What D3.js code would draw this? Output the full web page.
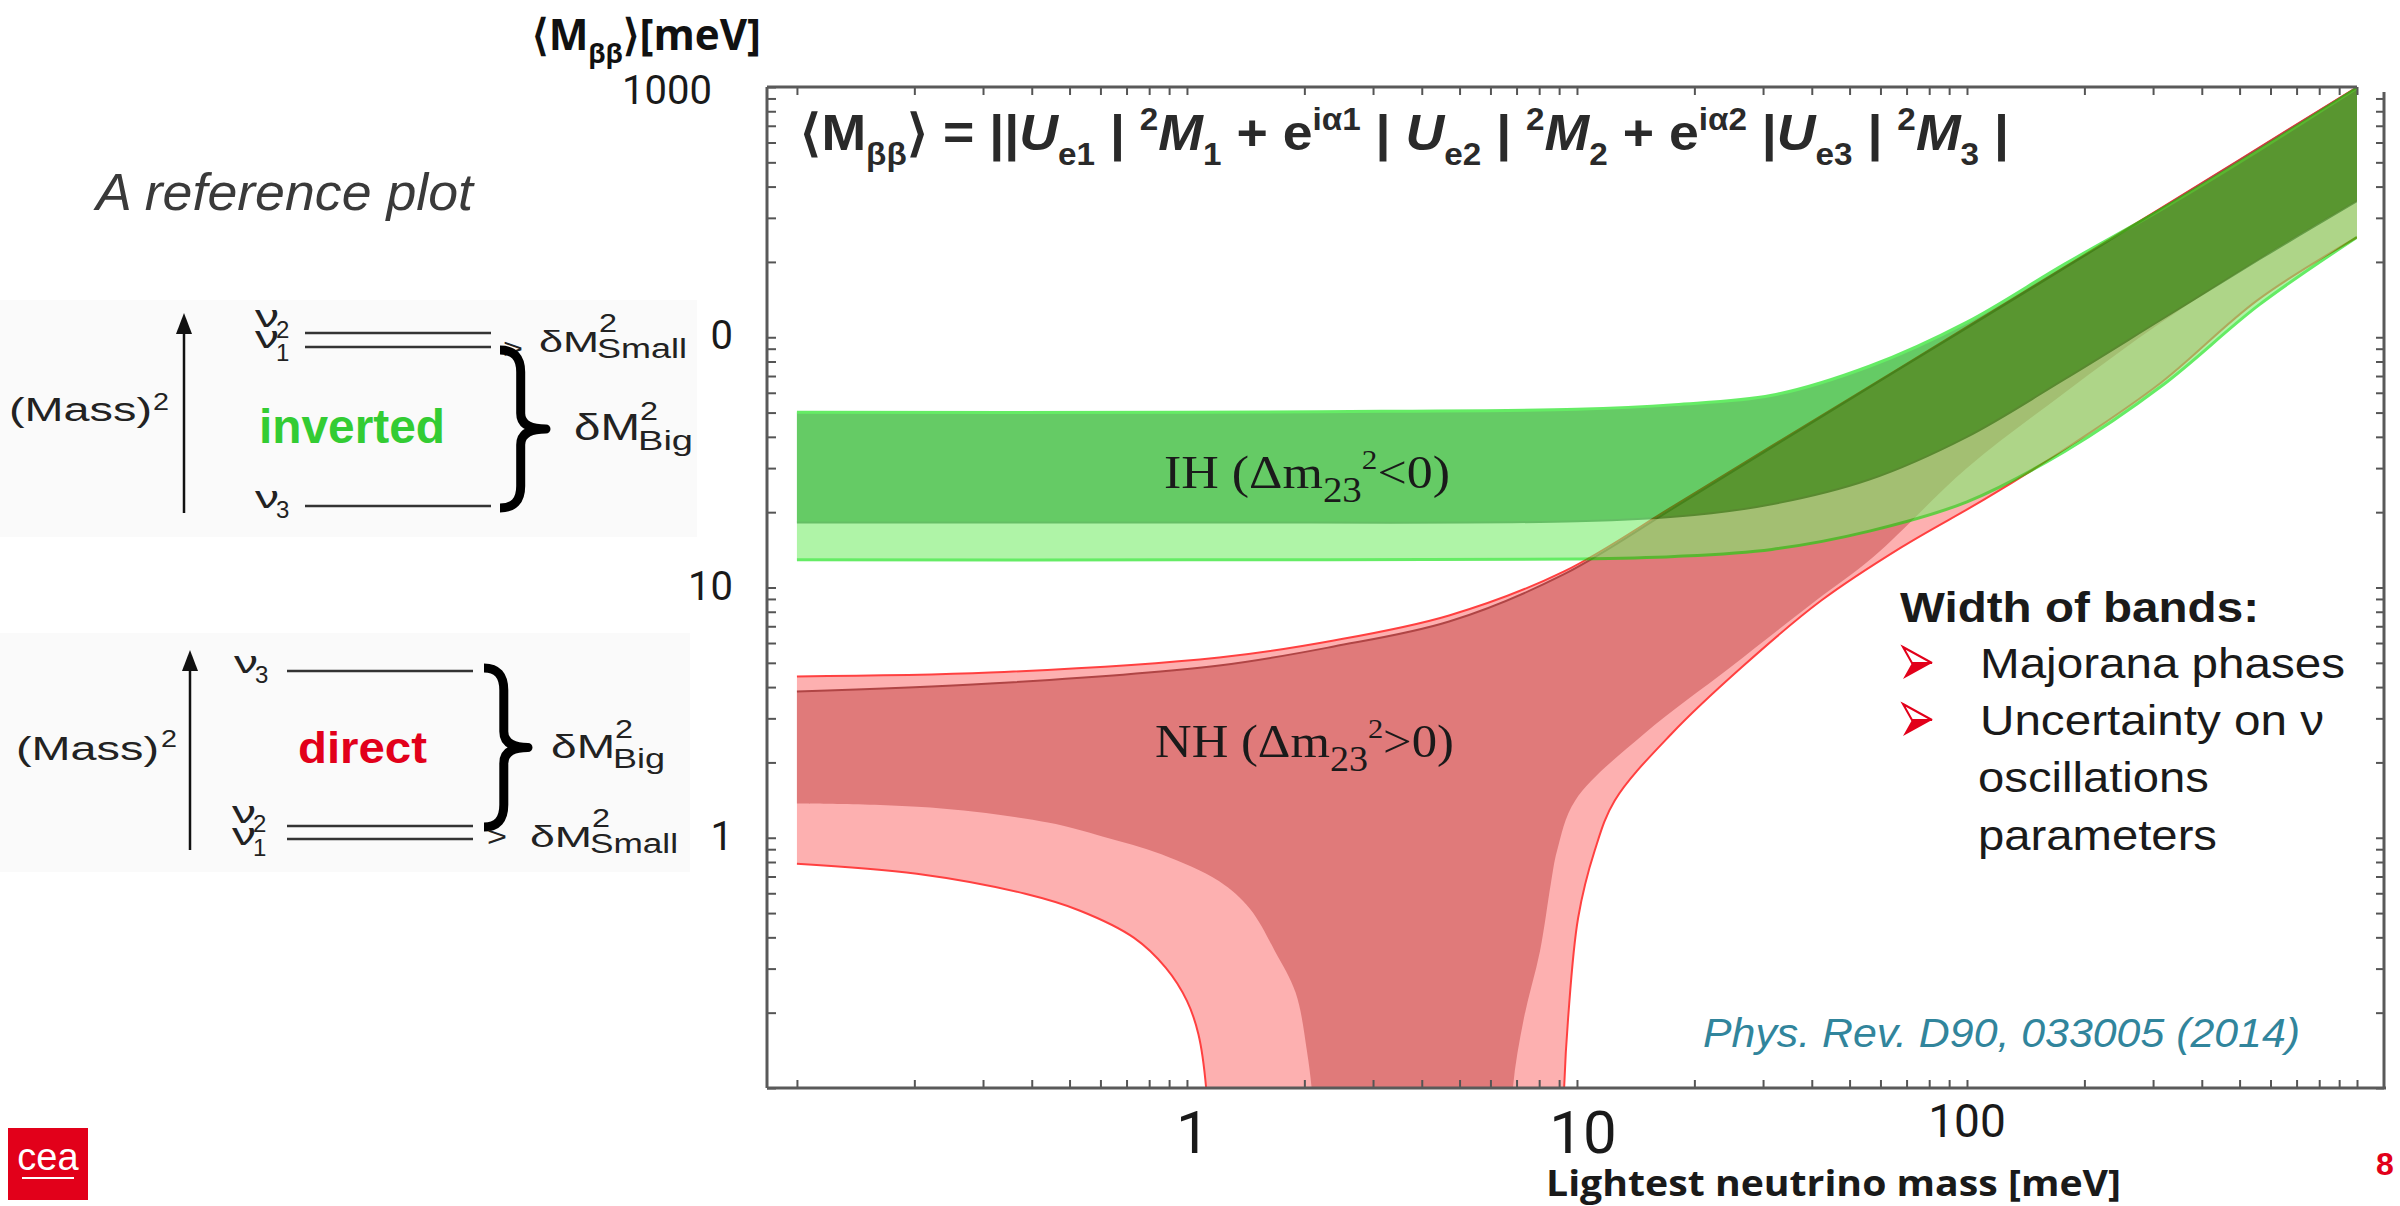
<!DOCTYPE html>
<html>
<head>
<meta charset="utf-8">
<script src="https://cdn.jsdelivr.net/npm/d3@7.9.0/dist/d3.min.js"></script>
<style>
  html, body { margin: 0; padding: 0; background: #fff; }
  svg { display: block; }
</style>
</head>
<body>
<svg id="chart" width="2400" height="1206"></svg>
<script>
// band edges, [lightest mass, <Mbb>] in meV
const ihUpper      = [[0.1,50.1],[1,50.1],[3.16,50.6],[10,51.5],[17.8,53.8],[31.6,58.6],[56.2,76.6],[100,115],[178,196],[316,325],[562,560],[1000,990]];
const ihDarkLower  = [[0.1,18.2],[1,18.2],[10,18.4],[20,19.5],[31.6,21.5],[56.2,27],[100,40],[178,68],[316,118],[562,205],[1000,350]];
const ihLightLower = [[0.1,12.9],[1,12.9],[10,13],[17.8,13.3],[31.6,14.2],[56.2,16.8],[100,22],[178,35],[316,64],[562,135],[1000,251]];

const nhLightUpper  = [[0.1,4.41],[0.313,4.57],[1.21,5.25],[2.38,6.14],[4.7,7.73],[9.27,11.6],[17.8,21.3],[31.6,36.8],[56.2,63.5],[100,110],[316,330],[1000,998]];
const nhDarkUpper   = [[0.1,3.84],[0.313,4.13],[1.21,4.88],[2.38,5.81],[4.7,7.31],[9.27,11.3],[17.8,20.9],[31.6,36.3],[56.2,63.1],[100,109],[316,328],[1000,996]];
const nhDarkLowerL  = [[0.1,1.37],[0.22,1.32],[0.44,1.15],[0.61,1.01],[0.86,0.86],[1.21,0.67],[1.45,0.52],[1.68,0.353],[1.9,0.24],[2.03,0.141],[2.1,0.09],[2.13,0.05]];
const nhDarkLowerR  = [[6.78,0.05],[6.85,0.1],[7.31,0.19],[8.04,0.353],[8.57,0.655],[8.89,0.887],[9.9,1.41],[14.9,2.61],[24.7,4.79],[41,8.87],[57.4,13.2],[100,30],[178,60],[316,115],[562,205],[1000,350]];
const nhLightLowerL = [[0.1,0.787],[0.203,0.718],[0.385,0.597],[0.532,0.511],[0.732,0.398],[0.883,0.302],[1.0,0.223],[1.07,0.164],[1.12,0.1],[1.14,0.05]];
const nhLightLowerR = [[9.2,0.05],[9.27,0.1],[9.49,0.19],[10.07,0.479],[11.1,0.887],[12.5,1.41],[17.5,2.61],[26.4,4.79],[42.3,8.87],[68,14.5],[113,22.9],[188,37.7],[313,65.5],[557,141],[1000,251]];

const xTickLabels = ['1', '10', '100'];
const xTickLabelValues = [1, 10, 100];
const yTickLabels = ['1000', '0', '10', '1'];
const yTickLabelValues = [1000, 100, 10, 1];

const bullets = ['Majorana phases', 'Uncertainty on ν'];

const svg = d3.select('#chart');
const SANS = "'Liberation Sans', Arial, sans-serif";

const X0 = 767, X1 = 2357, Y0 = 87, Y1 = 1088;
const x = d3.scaleLog().domain([0.0838, 1000]).range([X0, X1]);
const y = d3.scaleLog().domain([0.1, 1000]).range([Y1, Y0]);

function txt(g, s, px, py, size, o = {}) {
    const t = g.append('text').attr('x', px).attr('y', py)
        .attr('font-size', size)
        .attr('font-family', o.family || SANS)
        .attr('fill', o.fill || '#222')
        .text(s);
    if (o.weight) t.attr('font-weight', o.weight);
    if (o.style) t.attr('font-style', o.style);
    if (o.anchor) t.attr('text-anchor', o.anchor);
    if (o.len) t.attr('textLength', o.len).attr('lengthAdjust', 'spacingAndGlyphs');
    return t;
}

// text with sub/superscript pieces
function rich(g, px, py, size, parts, o = {}) {
    const t = txt(g, null, px, py, size, o);
    let off = 0;
    parts.forEach(p => {
        const target = p.sub ? size * 0.3 : p.sup ? -size * 0.4 : 0;
        const s = t.append('tspan').text(p.t).attr('dy', target - off);
        off = target;
        if (p.sub || p.sup) s.attr('font-size', size * (p.k || 0.62));
        if (p.it) s.attr('font-style', 'italic');
    });
    return t;
}

svg.append('rect').attr('width', 2400).attr('height', 1206).attr('fill', '#fff');

// ---------- left: level diagrams ----------
const left = svg.append('g');
txt(left, 'A reference plot', 96, 210, 52, { style: 'italic', fill: '#3a3a3a', len: 377 });

function brace(g, bx, yTop, yBot, w) {
    const ym = (yTop + yBot) / 2, h = yBot - yTop, xm = bx + w * 0.45;
    const p = `M${bx},${yTop} Q${xm},${yTop} ${xm},${yTop + h * 0.14} L${xm},${ym - h * 0.1} Q${xm},${ym} ${bx + w},${ym}`
        + ` Q${xm},${ym} ${xm},${ym + h * 0.1} L${xm},${yBot - h * 0.14} Q${xm},${yBot} ${bx},${yBot}`;
    g.append('path').attr('d', p).attr('fill', 'none').attr('stroke', '#000')
        .attr('stroke-width', 9).attr('stroke-linejoin', 'round');
}

function arrow(g, ax, yb, yt) {
    g.append('line').attr('x1', ax).attr('x2', ax).attr('y1', yb).attr('y2', yt + 18)
        .attr('stroke', '#111').attr('stroke-width', 2.5);
    g.append('path').attr('d', `M${ax},${yt} L${ax - 8},${yt + 21} L${ax + 8},${yt + 21}Z`).attr('fill', '#111');
}

function level(g, x1, x2, ly) {
    g.append('line').attr('x1', x1).attr('x2', x2).attr('y1', ly).attr('y2', ly)
        .attr('stroke', '#333').attr('stroke-width', 2.5);
}

function nu(g, nx, by, sub, sy) {
    txt(g, 'ν', nx, by, 32, { fill: '#222', len: 24 });
    txt(g, sub, nx + 21, sy, 24, { fill: '#222' });
}

function dM(g, dx, by, size, tag, subBy, supBy, lenMain, lenTag) {
    txt(g, 'δM', dx, by, size, { len: lenMain });
    txt(g, '2', dx + lenMain, supBy, 26, { len: 18 });
    txt(g, tag, dx + lenMain - 2, subBy, 27, { len: lenTag });
}

// inverted
const inv = left.append('g');
inv.append('rect').attr('x', 0).attr('y', 300).attr('width', 697).attr('height', 237).attr('fill', '#fafafa');
arrow(inv, 184, 513, 313);
txt(inv, '(Mass)', 9, 421, 34, { len: 143 });
txt(inv, '2', 153, 410, 24, { len: 16 });
nu(inv, 255, 327, '2', 338);
nu(inv, 255, 348, '1', 361);
level(inv, 305, 491, 333);
level(inv, 305, 491, 347);
level(inv, 305, 491, 506);
nu(inv, 255, 508, '3', 518);
txt(inv, '>', 503, 358, 28, { len: 20 });
dM(inv, 539, 352, 30, 'Small', 358, 332, 60, 90);
brace(inv, 500, 350, 508, 46);
dM(inv, 574, 440, 36, 'Big', 450, 420, 66, 55);
txt(inv, 'inverted', 259, 443, 48, { weight: 'bold', fill: '#33cc33', len: 186 });

// direct
const dir = left.append('g');
dir.append('rect').attr('x', 0).attr('y', 633).attr('width', 690).attr('height', 239).attr('fill', '#fafafa');
arrow(dir, 190, 850, 650);
txt(dir, '(Mass)', 16, 760, 34, { len: 143 });
txt(dir, '2', 161, 747, 24, { len: 16 });
nu(dir, 234, 673, '3', 683);
level(dir, 287, 473, 671);
txt(dir, 'direct', 298, 763, 44, { weight: 'bold', fill: '#e2001a', len: 129 });
brace(dir, 484, 668, 827, 44);
dM(dir, 551, 758, 34, 'Big', 768, 738, 64, 52);
nu(dir, 232, 823, '2', 832);
nu(dir, 232, 845, '1', 856);
level(dir, 287, 473, 826);
level(dir, 287, 473, 839);
txt(dir, '>', 487, 846, 28, { len: 20 });
dM(dir, 530, 847, 30, 'Small', 853, 827, 62, 88);

// ---------- plot ----------
svg.append('clipPath').attr('id', 'clip').append('rect')
    .attr('x', X0).attr('y', Y0).attr('width', X1 - X0).attr('height', Y1 - Y0);

const line = d3.line().x(d => x(d[0])).y(d => y(d[1])).curve(d3.curveCatmullRom.alpha(0.5));
function band(upper, ...lowers) {
    let p = line(upper);
    lowers.forEach(l => { p += 'L' + line(l.slice().reverse()).slice(1); });
    return p + 'Z';
}

const plot = svg.append('g').attr('clip-path', 'url(#clip)');

// normal hierarchy
const nh = plot.append('g');
nh.append('path').attr('d', band(nhLightUpper, nhLightLowerR, nhLightLowerL)).attr('fill', '#fdb0b0');
nh.append('path').attr('d', band(nhDarkUpper, nhDarkLowerR, nhDarkLowerL)).attr('fill', '#e07a7a');
[nhLightUpper, nhLightLowerL, nhLightLowerR].forEach(b =>
    nh.append('path').attr('d', line(b)).attr('fill', 'none').attr('stroke', '#ff4040').attr('stroke-width', 2));
nh.append('path').attr('d', line(nhDarkUpper)).attr('fill', 'none').attr('stroke', '#b04545').attr('stroke-width', 2);

// inverted hierarchy, translucent on top
const ih = plot.append('g').attr('opacity', 0.6);
ih.append('path').attr('d', band(ihUpper, ihLightLower)).attr('fill', '#7bee6e');
ih.append('path').attr('d', band(ihUpper, ihDarkLower)).attr('fill', '#00aa00');
ih.append('path').attr('d', line(ihDarkLower)).attr('fill', 'none').attr('stroke', '#009400').attr('stroke-width', 2);
[ihUpper, ihLightLower].forEach(b =>
    ih.append('path').attr('d', line(b)).attr('fill', 'none').attr('stroke', '#00e000').attr('stroke-width', 3));

// band names
const SERIF = "'Liberation Serif', 'Times New Roman', serif";
rich(svg, 1164, 488, 47, [{ t: 'IH (Δm' }, { t: '23', sub: true, k: 0.75 }, { t: '2', sup: true, k: 0.6 }, { t: '<0)' }],
    { family: SERIF, fill: '#1a1a1a' }).attr('textLength', 286).attr('lengthAdjust', 'spacingAndGlyphs');
rich(svg, 1155, 757, 47, [{ t: 'NH (Δm' }, { t: '23', sub: true, k: 0.75 }, { t: '2', sup: true, k: 0.6 }, { t: '>0)' }],
    { family: SERIF, fill: '#1a1a1a' }).attr('textLength', 299).attr('lengthAdjust', 'spacingAndGlyphs');

// axes
const axisG = svg.append('g').attr('color', '#555');
const xt = x.ticks().filter(v => v >= 0.1);
const yt = y.ticks();
axisG.append('g').attr('transform', `translate(0,${Y1})`)
    .call(d3.axisBottom(x).tickValues(xt).tickSize(-8).tickSizeOuter(0).tickFormat(''));
axisG.append('g').attr('transform', `translate(0,${Y0})`)
    .call(d3.axisTop(x).tickValues(xt).tickSize(-8).tickSizeOuter(0).tickFormat(''));
axisG.append('g').attr('transform', `translate(${X0},0)`)
    .call(d3.axisLeft(y).tickValues(yt).tickSize(-9).tickSizeOuter(0).tickFormat(''));
axisG.append('g').attr('transform', `translate(2384,0)`)
    .call(d3.axisLeft(y).tickValues(yt.filter(v => v < 1000)).tickSize(8).tickSizeOuter(0).tickFormat(''));
axisG.selectAll('.domain').remove();
axisG.selectAll('.tick line').attr('stroke-width', 2);
const frame = [[X0, Y0, X1, Y0], [X0, Y0, X0, Y1], [X0, Y1, 2386, Y1], [2384, 92, 2384, Y1]];
frame.forEach(f => axisG.append('line').attr('x1', f[0]).attr('y1', f[1]).attr('x2', f[2]).attr('y2', f[3])
    .attr('stroke', '#5a5a5a').attr('stroke-width', 3));

// tick labels
const TICKF = "Roboto, 'Open Sans', sans-serif";
xTickLabels.forEach((s, i) => {
    const big = i < 2;
    txt(svg, s, x(xTickLabelValues[i]) + (big ? 6 : 0), big ? 1153 : 1137, big ? 60 : 46,
        { family: TICKF, anchor: 'middle', fill: '#1a1a1a' });
});
yTickLabels.forEach((s, i) => {
    const top = i === 0;
    txt(svg, s, top ? 712 : 733, y(yTickLabelValues[i]) + (top ? 17 : 12), 40,
        { family: TICKF, anchor: 'end', fill: '#1a1a1a' });
});

// axis titles
rich(svg, 532, 50, 43, [{ t: '⟨M' }, { t: 'ββ', sub: true, k: 0.62 }, { t: '⟩[meV]' }],
    { family: "'Open Sans', sans-serif", weight: 'bold', fill: '#111' })
    .attr('textLength', 229).attr('lengthAdjust', 'spacingAndGlyphs');
txt(svg, 'Lightest neutrino mass [meV]', 1546, 1196, 36,
    { family: "'Open Sans', sans-serif", weight: 'bold', fill: '#1a1a1a', len: 575 });

// formula
rich(svg, 800, 150, 50, [
    { t: '⟨M' }, { t: 'ββ', sub: true }, { t: '⟩ = ||' }, { t: 'U', it: true }, { t: 'e1', sub: true }, { t: ' | ' },
    { t: '2', sup: true }, { t: 'M', it: true }, { t: '1', sub: true }, { t: ' + e' }, { t: 'iα1', sup: true }, { t: ' | ' },
    { t: 'U', it: true }, { t: 'e2', sub: true }, { t: ' | ' }, { t: '2', sup: true }, { t: 'M', it: true }, { t: '2', sub: true },
    { t: ' + e' }, { t: 'iα2', sup: true }, { t: ' |' }, { t: 'U', it: true }, { t: 'e3', sub: true }, { t: ' | ' },
    { t: '2', sup: true }, { t: 'M', it: true }, { t: '3', sub: true }, { t: ' |' }
], { weight: 'bold', fill: '#2a2a2a' }).attr('textLength', 1209).attr('lengthAdjust', 'spacingAndGlyphs');

// width of bands note
txt(svg, 'Width of bands:', 1900, 622, 43, { weight: 'bold', fill: '#1a1a1a', len: 359 });
function chevron(cx, cy) {
    const g = svg.append('g').attr('transform', `translate(${cx},${cy})`);
    g.append('path').attr('d', 'M0,0 L29,16 L9,16 Z').attr('fill', '#fff').attr('stroke', '#e2001a').attr('stroke-width', 2);
    g.append('path').attr('d', 'M9,16 L29,16 L0,32 Z').attr('fill', '#e2001a');
}
bullets.forEach((s, i) => {
    chevron(1903, 647 + i * 57);
    txt(svg, s, 1980, 678 + i * 57, 42, { fill: '#1a1a1a', len: i === 0 ? 365 : 344 });
});
txt(svg, 'oscillations', 1978, 792, 42, { fill: '#1a1a1a', len: 231 });
txt(svg, 'parameters', 1978, 850, 42, { fill: '#1a1a1a', len: 239 });

txt(svg, 'Phys. Rev. D90, 033005 (2014)', 1703, 1047, 40, { style: 'italic', fill: '#31859c', len: 597 });

// page number and logo
txt(svg, '8', 2376, 1175, 32, { weight: 'bold', fill: '#e2001a' });
svg.append('rect').attr('x', 8).attr('y', 1128).attr('width', 80).attr('height', 72).attr('fill', '#e2001a');
txt(svg, 'cea', 48, 1170, 38, { fill: '#fff', anchor: 'middle' });
svg.append('line').attr('x1', 22).attr('x2', 74).attr('y1', 1178).attr('y2', 1178).attr('stroke', '#fff').attr('stroke-width', 2);
</script>
</body>
</html>
